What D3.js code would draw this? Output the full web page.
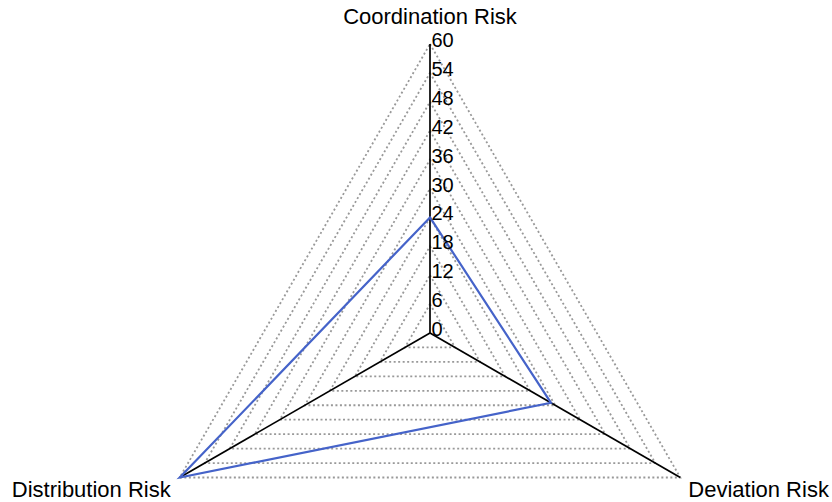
<!DOCTYPE html>
<html>
<head>
<meta charset="utf-8">
<script src="https://cdn.jsdelivr.net/npm/d3@7"></script>
<style>
  body { margin: 0; background: #fff; }
  text { font-family: "Liberation Sans", Arial, sans-serif; fill: #000; }
</style>
</head>
<body>
<script>
const axes = ['Coordination Risk', 'Deviation Risk', 'Distribution Risk']
const values = [24, 29, 60]
const tickValues = [0, 6, 12, 18, 24, 30, 36, 42, 48, 54, 60]
const maxValue = 60

const width = 832, height = 502
const cx = 430, cy = 333, radius = 289

const svg = d3.select('body').append('svg')
    .attr('width', width)
    .attr('height', height)

const stage = svg.append('g').attr('transform', `translate(${cx},${cy})`)

const r = d3.scaleLinear().domain([0, maxValue]).range([0, radius])
const angle = i => i * 2 * Math.PI / axes.length
const point = (i, v) => [Math.sin(angle(i)) * r(v), -Math.cos(angle(i)) * r(v)]

// dotted grid triangles
stage.selectAll('.grid')
    .data(tickValues.slice(1))
    .enter()
    .append('polygon')
    .attr('points', v => axes.map((a, i) => point(i, v).join(',')).join(' '))
    .attr('fill', 'none')
    .attr('stroke', '#999')
    .attr('stroke-width', 1.8)
    .attr('stroke-dasharray', '2,2.5')

// axis spokes
stage.selectAll('.spoke')
    .data(axes)
    .enter()
    .append('line')
    .attr('x1', 0).attr('y1', 0)
    .attr('x2', (a, i) => point(i, maxValue)[0])
    .attr('y2', (a, i) => point(i, maxValue)[1])
    .attr('stroke', '#000')
    .attr('stroke-width', 1.7)

// series
stage.append('path')
    .datum(values)
    .attr('d', d3.line().x((v, i) => point(i, v)[0]).y((v, i) => point(i, v)[1]).curve(d3.curveLinearClosed))
    .attr('fill', 'none')
    .attr('stroke', '#4563c9')
    .attr('stroke-width', 2.2)

// tick labels on the first axis
stage.selectAll('.tick')
    .data(tickValues)
    .enter()
    .append('text')
    .attr('x', 1.5)
    .attr('y', v => -r(v) + 3)
    .attr('font-size', 20)
    .text(v => v)

// axis labels
const labelPos = [
    { dx: 0, dy: -20, anchor: 'middle' },
    { dx: 8, dy: 19, anchor: 'start' },
    { dx: -9, dy: 19, anchor: 'end' }
]
stage.selectAll('.label')
    .data(axes)
    .enter()
    .append('text')
    .attr('x', (a, i) => point(i, maxValue)[0] + labelPos[i].dx)
    .attr('y', (a, i) => point(i, maxValue)[1] + labelPos[i].dy)
    .attr('text-anchor', (a, i) => labelPos[i].anchor)
    .attr('font-size', 22)
    .text(a => a)
</script>
</body>
</html>
